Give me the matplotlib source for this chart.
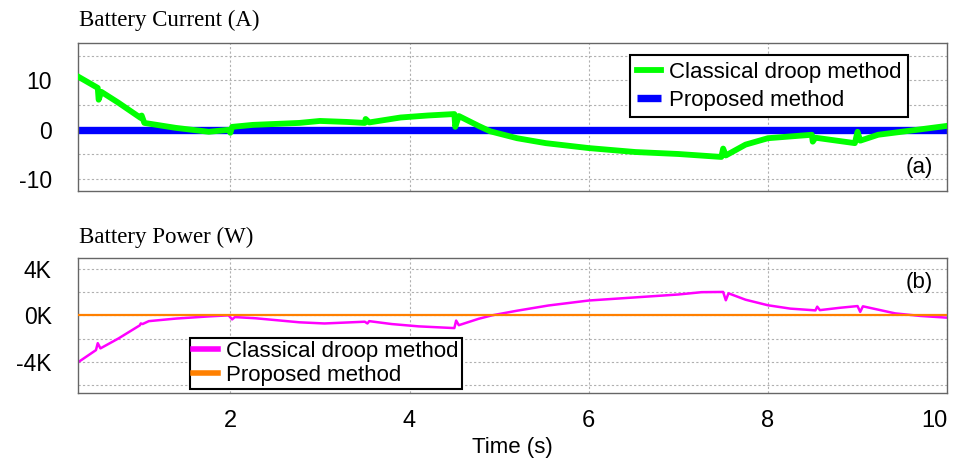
import matplotlib
matplotlib.use("Agg")
import matplotlib.pyplot as plt

# battery current (A), classical droop controller
t_cur = [0.3, 0.52, 0.53, 0.56, 0.75, 1.0, 1.01, 1.04, 1.39, 1.76, 1.98, 2.0,
         2.02, 2.25, 2.77, 3.0, 3.3, 3.5, 3.51, 3.55, 3.9, 4.2, 4.5, 4.51, 4.55,
         4.77, 4.9, 5.2, 5.52, 6.0, 6.52, 7.0, 7.48, 7.5, 7.53, 7.75, 8.0, 8.49,
         8.5, 8.53, 8.97, 9.0, 9.03, 9.23, 9.49, 10.0]
i_droop = [10.8, 8.5, 6.1, 7.7, 5.5, 2.4, 2.9, 1.4, 0.4, -0.4, 0.0, -0.6,
           0.6, 1.0, 1.4, 1.8, 1.6, 1.4, 2.2, 1.5, 2.5, 2.9, 3.2, 0.6, 2.8,
           0.8, -0.3, -1.7, -2.7, -3.7, -4.5, -4.9, -5.5, -3.8, -5.2, -3.0, -1.7, -1.0,
           -2.4, -1.6, -2.7, -0.4, -2.2, -1.0, -0.4, 0.8]
t_flat = [0.3, 10.0]
i_prop = [0.0, 0.0]

# battery power (W)
t_pow = [0.3, 0.5, 0.52, 0.55, 0.75, 0.99, 1.0, 1.02, 1.09, 1.39, 1.76, 1.98,
         2.02, 2.05, 2.28, 2.77, 3.05, 3.5, 3.53, 3.55, 3.8, 4.1, 4.5, 4.52, 4.55,
         4.77, 4.92, 5.2, 5.55, 6.0, 6.52, 7.0, 7.26, 7.5, 7.53, 7.56, 7.75, 8.0,
         8.25, 8.53, 8.55, 8.58, 8.8, 9.0, 9.03, 9.06, 9.42, 9.7, 10.0]
p_droop = [-4050, -3000, -2400, -2850, -2000, -860, -700, -750, -500, -280, -90, 0,
           -350, -150, -250, -600, -700, -550, -700, -500, -750, -950, -1100, -450, -850,
           -300, 0, 400, 850, 1280, 1550, 1800, 2000, 2020, 1300, 1900, 1350, 870,
           580, 430, 750, 450, 650, 800, 300, 780, 170, -50, -200]
p_prop = [0, 0]

xgrid = [2, 4, 6, 8, 10]
sans = "Liberation Sans"
serif = "Liberation Serif"

fig = plt.figure(figsize=(9.54, 4.63), dpi=100)
ax1 = fig.add_axes([0.0818, 0.5875, 0.911, 0.3196])
ax2 = fig.add_axes([0.0818, 0.1512, 0.911, 0.2916])

for ax in (ax1, ax2):
    ax.set_xlim(0.3, 10.0)
    ax.set_xticks(xgrid)
    for s in ax.spines.values():
        s.set_color("#666666")
        s.set_linewidth(1.0)
    ax.tick_params(axis="y", length=0, labelsize=16.5, pad=19)
    ax.tick_params(axis="x", length=0, labelsize=17, pad=12)
    ax.grid(True, color="#b0b0b0", linestyle=(0, (2, 2)), linewidth=0.8)

# (a) current
ax1.plot(t_flat, i_prop, color="#0000ff", lw=5.3, solid_capstyle="butt",
         label="Proposed method", zorder=2)
ax1.plot(t_cur, i_droop, color="#00ff00", lw=4.2, label="Classical droop method",
         zorder=3)
ax1.set_ylim(-12.4, 17.6)
ax1.set_yticks([-10, -5, 0, 5, 10, 15])
ax1.set_yticklabels(["-10", "", "0", "", "10", ""], fontfamily=sans)
ax1.set_xticklabels([])
h, l = ax1.get_legend_handles_labels()
leg1 = ax1.legend(h[::-1], l[::-1], loc="upper right", bbox_to_anchor=(0.955, 0.919),
                  prop={"family": sans, "size": 16}, fancybox=False,
                  edgecolor="black", framealpha=1, handlelength=1.1,
                  handletextpad=0.35, borderpad=0.3, labelspacing=0.32,
                  borderaxespad=0)
leg1.get_frame().set_linewidth(1.5)
ax1.text(0.984, 0.16, "(a)", transform=ax1.transAxes, ha="right", va="center",
         fontsize=16, fontfamily=sans)
fig.text(0.083, 0.955, "Battery Current (A)", fontsize=16.5, fontfamily=serif,
         va="center")

# (b) power
ax2.plot(t_pow, p_droop, color="#ff00ff", lw=1.8, label="Classical droop method",
         zorder=2)
ax2.plot(t_flat, p_prop, color="#ff8000", lw=1.6, label="Proposed method", zorder=3)
ax2.set_ylim(-6700, 4950)
ax2.set_yticks([-6000, -4000, -2000, 0, 2000, 4000])
ax2.set_yticklabels(["", "-4K", "", "0K", "", "4K"], fontfamily=sans)
xlabels = ax2.set_xticklabels(["2", "4", "6", "8", "10"], fontfamily=sans)
xlabels[-1].set_horizontalalignment("right")
ax2.set_xlabel("Time (s)", fontsize=16, fontfamily=sans, labelpad=4)
leg2 = ax2.legend(loc="lower left", bbox_to_anchor=(0.129, 0.03),
                  prop={"family": sans, "size": 16}, fancybox=False,
                  edgecolor="black", framealpha=1, handlelength=1.1,
                  handletextpad=0.35, borderpad=0.15, labelspacing=0.12,
                  borderaxespad=0)
leg2.get_frame().set_linewidth(1.5)
for line in leg2.get_lines():
    line.set_linewidth(4)
ax2.text(0.984, 0.822, "(b)", transform=ax2.transAxes, ha="right", va="center",
         fontsize=16, fontfamily=sans)
fig.text(0.083, 0.488, "Battery Power (W)", fontsize=16.5, fontfamily=serif,
         va="center")

fig.savefig("out.png", dpi=100)
